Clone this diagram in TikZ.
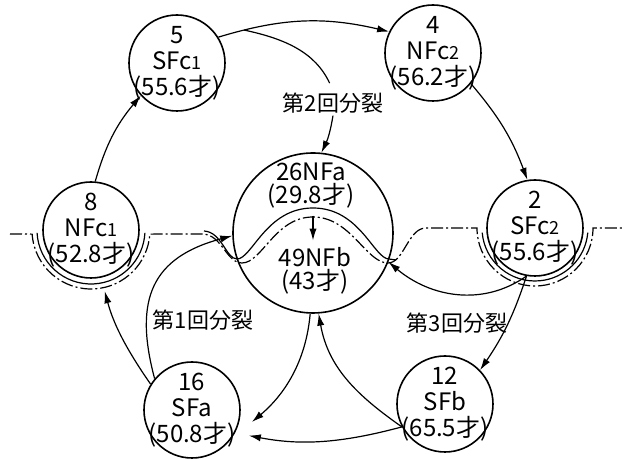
\documentclass[tikz,border=0pt]{standalone}
\usepackage{fontspec}
\setmainfont{Noto Sans CJK JP}
\usetikzlibrary{positioning, arrows.meta, calc}

\begin{document}
\begin{tikzpicture}[x=0.5pt, y=0.5pt, on grid, >={Latex[length=6pt,width=3.6pt]},
  every node/.style={font=\fontsize{12}{13}\selectfont},
  cell/.style={draw, circle, line width=0.8pt, minimum size=48pt, inner sep=-8pt, align=center},
  lab/.style={font=\fontsize{11}{12}\selectfont, inner sep=1pt},
  link/.style={->, line width=0.6pt},
  wall/.style={line width=0.6pt},
  wallcut/.style={line width=0.6pt, dash pattern=on 6pt off 1.5pt on 1pt off 1.5pt}]

\useasboundingbox (0,0) rectangle (629,460);

% Centre
\node (big) [draw, circle, line width=0.8pt, minimum size=80pt] at (313,227) {};
\node (nfa) [align=center, font=\fontsize{12}{11.5}\selectfont] at ($(big)+(-2,47)$) {26NFa\\(29.8才)};
\node (nfb) [align=center, font=\fontsize{12}{11.5}\selectfont] at ($(big)+(2,-38)$) {49NFb\\(43才)};

% Ring of cells
\node (c5) [cell, above left=85pt and 68pt of big] {5\\SFc{\small 1}\\(55.6才)};
\node (c4) [cell, above right=90pt and 60pt of big] {4\\NFc{\small 2}\\(56.2才)};
\node (c2) [cell, above right=2.5pt and 111pt of big] {2\\SFc{\small 2}\\(55.6才)};
\node (c12) [cell, below right=85.5pt and 66pt of big] {12\\SFb\\(65.5才)};
\node (c16) [cell, below left=88.5pt and 60.5pt of big] {16\\SFa\\(50.8才)};
\node (c8) [cell, above left=1.5pt and 111pt of big] {8\\NFc{\small 1}\\(52.8才)};

% Division labels
\node (lab2) [lab] at ($(big)+(20,130)$) {第2回分裂};
\node (lab1) [lab] at ($(big)+(-110,-87)$) {第1回分裂};
\node (lab3) [lab] at ($(big)+(144,-90)$) {第3回分裂};

% Membrane
\draw[wallcut] (10,226) -- ($(c8)+(184:59)$) arc[start angle=184, end angle=356, radius=59]
  -- (202,226) .. controls (222,226) and (226,197) .. (242,197)
  .. controls (262,197) and (275,243) .. (313,243)
  .. controls (351,243) and (366,197) .. (388,197)
  .. controls (404,197) and (408,232) .. (426,232)
  -- ($(c2)+(180:58)$) arc[start angle=180, end angle=360, radius=58] -- (622,232);
\draw[wall] ($(c8)+(183:54)$) arc[start angle=183, end angle=357, radius=54];
\draw[wall] (204,229) .. controls (222,228) and (226,201) .. (237,201)
  .. controls (252,201) and (266,252) .. (313,252)
  .. controls (360,252) and (374,201) .. (389,201) -- (396,200);
\draw[wall] ($(c2)+(185:53)$) arc[start angle=185, end angle=355, radius=53];

% Inner arrow
\draw[link] (nfa.south -| big.center) -- (nfb.north -| big.center);

% Ring arrows
\draw[link] (c8.85) to[bend left=12] (c5.222);
\draw[link] (c5.32) to[bend left=15] coordinate[pos=0.14] (split) (c4.154);
\draw[link] (c4.-39) to[bend left=10] (c2.99);
\draw[link] (c2.-100) to[bend left=8] (c12.44);
\draw[link, shorten >=7pt] (c12.208) to[bend left=13] (c16.-28);
\draw[link, shorten >=7pt] (c16.148) to[bend left=10] (c8.-78);

% Division arrows
\draw[link] (c16.140) to[out=105, in=195, looseness=1.3] (big.182);
\draw[line width=0.6pt, shorten >=4pt] (split) to[out=-12, in=115] (lab2.north);
\draw[link] (lab2.south) to[bend left=8] (big.84);
\draw[link] (c2.-100) to[out=215, in=-40] (big.-21);
\draw[link] (c12.208) to[out=145, in=-80] (big.-86);
\draw[link, shorten >=14pt] (big.-92) to[out=-95, in=40] (c16.-38);

\end{tikzpicture}
\end{document}
